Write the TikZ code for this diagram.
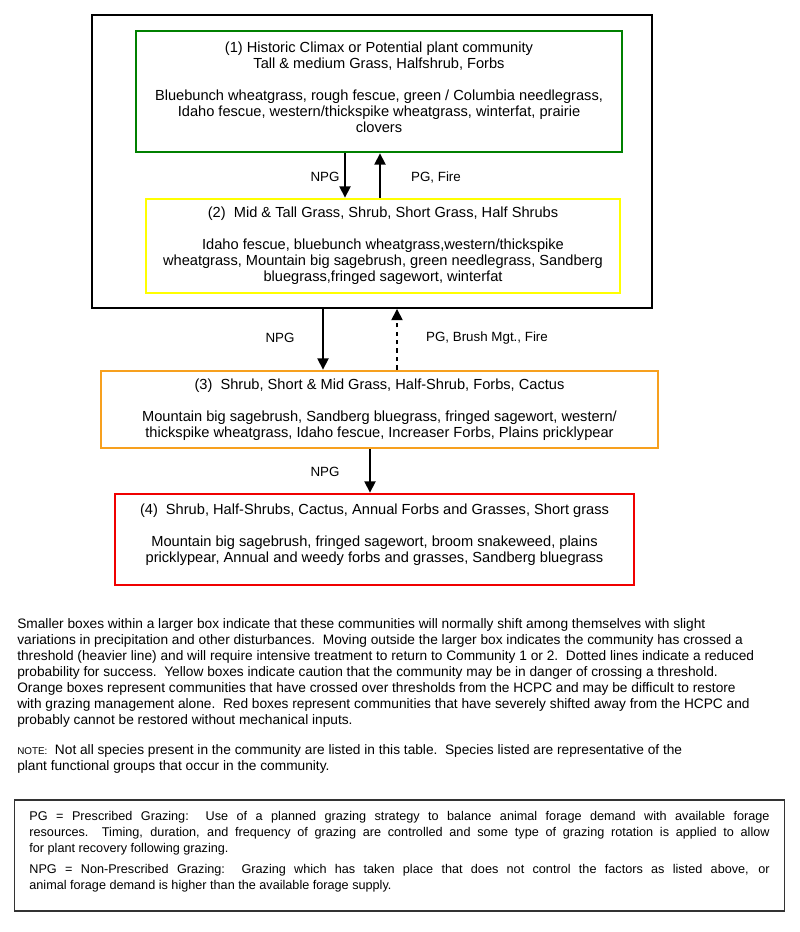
\documentclass[tikz,border=0pt]{standalone}
\usepackage{fontspec}
\setmainfont{Liberation Sans}
\usetikzlibrary{arrows.meta}
\definecolor{hcpcgreen}{RGB}{0,128,0}
\definecolor{cautionyellow}{RGB}{255,255,0}
\definecolor{shiftorange}{RGB}{247,160,30}
\definecolor{severered}{RGB}{240,0,0}
\begin{document}
\begin{tikzpicture}[x=0.025cm,y=-0.025cm,
    community/.style={draw,line width=2pt,align=center,inner sep=0pt,font=\fontsize{10.4}{11.4}\selectfont},
    pathway/.style={-{Triangle[length=8pt,width=8pt]},line width=1.1pt},
    pathlabel/.style={font=\fontsize{9.5}{11.4}\selectfont,inner sep=1pt},
    notetext/.style={anchor=north west,align=left,inner sep=0pt,font=\fontsize{9.75}{11.4}\selectfont}]
    \useasboundingbox (0,0) rectangle (800,932);
    % \helpgrid
    \node [draw,line width=1.3pt,minimum width=14cm,minimum height=7.325cm] (outer) at (372,161.5) {};
    \node [community,color=hcpcgreen,text=black,minimum width=12.15cm,minimum height=3.025cm] (c1) at (379,91.5)
        {(1) Historic Climax or Potential plant community\\Tall \& medium Grass, Halfshrub, Forbs\\[11.4pt]
         Bluebunch wheatgrass, rough fescue, green / Columbia needlegrass,\\
         Idaho fescue, western/thickspike wheatgrass, winterfat, prairie\\clovers\\[-5.7pt]};
    \node [community,color=cautionyellow,text=black,minimum width=11.85cm,minimum height=2.35cm] (c2) at (383,246)
        {(2)\ \ Mid \& Tall Grass, Shrub, Short Grass, Half Shrubs\\[11.4pt]
         Idaho fescue, bluebunch wheatgrass,western/thickspike\\
         wheatgrass, Mountain big sagebrush, green needlegrass, Sandberg\\bluegrass,fringed sagewort, winterfat};
    \node [community,color=shiftorange,text=black,minimum width=13.925cm,minimum height=1.925cm] (c3) at (379.5,409.5)
        {(3)\ \ Shrub, Short \& Mid Grass, Half-Shrub, Forbs, Cactus\\[11.4pt]
         Mountain big sagebrush, Sandberg bluegrass, fringed sagewort, western/\\
         thickspike wheatgrass, Idaho fescue, Increaser Forbs, Plains pricklypear};
    \node [community,color=severered,text=black,minimum width=12.975cm,minimum height=2.275cm] (c4) at (374.5,539.5)
        {(4)\ \ Shrub, Half-Shrubs, Cactus, Annual Forbs and Grasses, Short grass\\[11.4pt]
         Mountain big sagebrush, fringed sagewort, broom snakeweed, plains\\
         pricklypear, Annual and weedy forbs and grasses, Sandberg bluegrass\\[-2.2pt]};
    \coordinate (x12) at (345,0);
    \coordinate (x21) at (380,0);
    \coordinate (x23) at (323,0);
    \coordinate (x32) at (397,0);
    \coordinate (x34) at (370,0);
    \draw [pathway] (c1.south -| x12) -- (c2.north -| x12);
    \draw [pathway] (c2.north -| x21) -- (c1.south -| x21);
    \draw [pathway] (outer.south -| x23) -- (c3.north -| x23);
    \draw [pathway,dashed] (c3.north -| x32) -- (outer.south -| x32);
    \draw [pathway] (c3.south -| x34) -- (c4.north -| x34);
    \node [pathlabel] (npg12) at (325,177) {NPG};
    \node [pathlabel] (pg21) at (436,178) {PG, Fire};
    \node [pathlabel] (npg23) at (280,338) {NPG};
    \node [pathlabel] (pg32) at (487,338) {PG, Brush Mgt., Fire};
    \node [pathlabel] (npg34) at (325,472) {NPG};
    \node [notetext] (legend) at (17,618)
        {Smaller boxes within a larger box indicate that these communities will normally shift among themselves with slight\\
         variations in precipitation and other disturbances.\ \ Moving outside the larger box indicates the community has crossed a\\
         threshold (heavier line) and will require intensive treatment to return to Community 1 or 2.\ \ Dotted lines indicate a reduced\\
         probability for success.\ \ Yellow boxes indicate caution that the community may be in danger of crossing a threshold.\\
         Orange boxes represent communities that have crossed over thresholds from the HCPC and may be difficult to restore\\
         with grazing management alone.\ \ Red boxes represent communities that have severely shifted away from the HCPC and\\
         probably cannot be restored without mechanical inputs.};
    \node [notetext] (note) at (17,744)
        {{\fontsize{7}{11.4}\selectfont NOTE:}\ \ Not all species present in the community are listed in this table.\ \ Species listed are representative of the\\
         plant functional groups that occur in the community.};
    \node [draw,color=black!80,text=black,line width=0.8pt,minimum width=19.225cm,minimum height=2.775cm,
           text width=18.5cm,align=justify,inner xsep=0.3625cm,font=\fontsize{9}{11.4}\selectfont] (glossary) at (399.5,855.5)
        {PG = Prescribed Grazing:\ \ Use of a planned grazing strategy to balance animal forage demand with available forage\linebreak
         resources.\ \ Timing, duration, and frequency of grazing are controlled and some type of grazing rotation is applied to allow\linebreak
         for plant recovery following grazing.\\[3.5pt]
         NPG = Non-Prescribed Grazing:\ \ Grazing which has taken place that does not control the factors as listed above, or\linebreak
         animal forage demand is higher than the available forage supply.\\[-4pt]};
\end{tikzpicture}
\end{document}
